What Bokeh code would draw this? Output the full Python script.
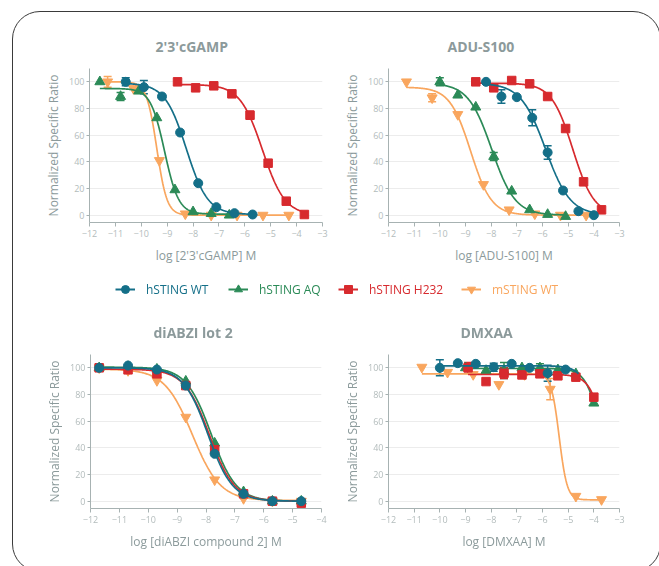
import numpy as np
from bokeh.plotting import figure
from bokeh.models import (ColumnDataSource, Whisker, TeeHead, FixedTicker, Legend,
                          LegendItem, Div, Range1d)
from bokeh.layouts import column, row
from bokeh.embed import file_html
from bokeh.resources import INLINE

SERIES = ["hSTING WT", "hSTING AQ", "hSTING H232", "mSTING WT"]
COLORS = ["#146f88", "#2b8a57", "#d72a2e", "#f9a65e"]
MARKERS = ["circle", "triangle", "square", "inverted_triangle"]
SIZES = [9, 10, 8.5, 10]

# ---------------- 2'3'cGAMP ----------------
cg_x_wt = [-10.6, -9.9, -9.2, -8.5, -7.8, -7.1, -6.4, -5.7]
cg_y_wt = [100, 96, 89, 62, 24, 6, 1.5, 0.5]
cg_e_wt = [3, 5, 0, 0, 0, 0, 0, 0]
cg_x_aq = [-11.6, -10.8, -10.1, -9.4, -8.7, -8.0, -7.3, -6.6]
cg_y_aq = [100, 89, 93, 73, 19, 2.5, 1.2, 0]
cg_e_aq = [0, 3, 0, 0, 0, 0, 0, 0]
cg_x_h232 = [-8.6, -7.9, -7.2, -6.5, -5.8, -5.1, -4.4, -3.7]
cg_y_h232 = [100, 95.5, 97, 91, 75, 39, 10.5, 0.5]
cg_e_h232 = [0, 0, 0, 0, 3, 0, 0, 0]
cg_x_m = [-11.3, -10.3, -9.3, -8.3, -7.3, -6.3, -5.3, -4.3]
cg_y_m = [100, 95, 41, 1, 0, 0, 0, 0]
cg_e_m = [4, 0, 0, 0, 0, 0, 0, 0]
cg_top = [99, 95, 98, 100]
cg_bottom = [0.5, 0.8, 0, 0]
cg_logec = [-8.26, -9.1, -5.32, -9.4]
cg_hill = [1.05, 1.6, 1.0, 2.2]
cg_xend = [-5.7, -6.6, -3.7, -4.3]

# ---------------- ADU-S100 ----------------
ad_x_wt = [-8.2, -7.6, -7.0, -6.4, -5.8, -5.2, -4.6, -4.0]
ad_y_wt = [100, 89, 88.5, 73, 47, 18.5, 3, 0]
ad_e_wt = [0, 5, 0, 6, 5, 0, 0, 0]
ad_x_aq = [-10.0, -9.3, -8.6, -7.9, -7.2, -6.5, -5.8, -5.1]
ad_y_aq = [100, 90, 81, 44, 18, 4, 0.5, -1]
ad_e_aq = [3, 0, 0, 3, 0, 0, 0, 0]
ad_x_h232 = [-8.6, -7.9, -7.2, -6.5, -5.8, -5.1, -4.4, -3.7]
ad_y_h232 = [100, 95.5, 101, 98.5, 89, 65, 25, 4]
ad_e_h232 = [0, 0, 0, 0, 2, 0, 0, 0]
ad_x_m = [-11.3, -10.3, -9.3, -8.3, -7.3, -6.3, -5.3, -4.3]
ad_y_m = [100, 88, 75.5, 23, 4, 1, 0, 0]
ad_e_m = [0, 3, 0, 0, 0, 0, 0, 0]
ad_top = [99, 99, 99, 96]
ad_bottom = [0, 0, 0, 0]
ad_logec = [-5.88, -7.98, -4.82, -8.8]
ad_hill = [0.9, 0.95, 1.05, 1.07]
ad_xend = [-4.0, -5.1, -3.7, -4.3]

# ---------------- diABZI lot 2 ----------------
di_x = [-11.7, -10.7, -9.7, -8.7, -7.7, -6.7, -5.7, -4.7]
di_y_wt = [100, 101.7, 98.7, 86.7, 35.5, 5.5, 0, 0]
di_y_aq = [100, 101, 99, 90, 43.5, 7, 0, 0]
di_y_h232 = [100, 98.5, 95.5, 86.7, 38.5, 5.5, 0, -1.5]
di_y_m = [100, 98, 90.5, 63, 16, 2, 0, 0]
di_e = [0, 0, 0, 0, 0, 0, 0, 0]
di_top = [100, 100.5, 99, 99]
di_bottom = [0, 0, 0, 0.5]
di_logec = [-7.93, -7.82, -7.88, -8.47]
di_hill = [1.02, 1.0, 1.0, 0.9]
di_xend = [-4.7, -4.7, -4.7, -4.7]

# ---------------- DMXAA ----------------
dm_x_wt = [-10.0, -9.3, -8.6, -7.9, -7.2, -6.5, -5.8, -5.1]
dm_y_wt = [100, 103.5, 103, 100.5, 103, 100, 96, 98.7]
dm_e_wt = [6, 0, 0, 3, 0, 0, 6, 0]
dm_x_aq = [-9.0, -8.2, -7.5, -6.8, -6.1, -5.4, -4.7, -4.0]
dm_y_aq = [100, 98, 98, 100, 100, 98.5, 95.5, 73.5]
dm_e_aq = [0, 0, 6, 0, 3, 0, 0, 0]
dm_x_h232 = [-8.9, -8.2, -7.5, -6.8, -6.1, -5.4, -4.7, -4.0]
dm_y_h232 = [100, 89.7, 96, 94.7, 95.5, 94, 93, 78]
dm_e_h232 = [4, 0, 4, 0, 0, 0, 0, 0]
dm_x_m = [-10.7, -9.7, -8.7, -7.7, -6.7, -5.7, -4.7, -3.7]
dm_y_m = [100.5, 96.7, 95, 87.5, 95, 84, 3.7, 1.2]
dm_e_m = [0, 0, 0, 0, 0, 8, 0, 0]
dm_top = [101.5, 99.5, 95, 95.5]
dm_bottom = [0, 0, 0, 1]
dm_logec = [-3.8, -3.7, -3.56, -5.35]
dm_hill = [1.5, 1.5, 1.5, 2.8]
dm_xend = [-4.6, -4.0, -4.0, -3.7]

Y_TICKS = [0, 20, 40, 60, 80, 100]

FONT = "Open Sans"
TITLE_C = "#8c9a9b"
LABEL_C = "#8b9a9b"
TICKLAB_C = "#b3bcbc"
AXIS_C = "#a7b2b2"
GRID_C = "#ececec"


def make_panel(title, xlabel, x_end, panel, fit, width, height, mb_left, mb_right,
               mb_top, mb_bottom, title_offset):
    p = figure(width=width, height=height, output_backend="svg", toolbar_location=None,
               x_range=Range1d(-12, x_end), y_range=Range1d(-5.5, 110),
               min_border_left=mb_left, min_border_right=mb_right,
               min_border_top=mb_top, min_border_bottom=mb_bottom,
               title=title)
    p.outline_line_color = None
    p.background_fill_color = None
    p.border_fill_color = None
    p.title.text_font = FONT
    p.title.text_font_size = "14px"
    p.title.text_font_style = "bold"
    p.title.text_color = TITLE_C
    p.title.align = "left"
    p.title.offset = title_offset
    p.title.standoff = 26
    p.xgrid.visible = False
    p.ygrid.grid_line_color = GRID_C
    p.ygrid.grid_line_width = 1
    p.yaxis.ticker = FixedTicker(ticks=Y_TICKS)
    p.xaxis.ticker = FixedTicker(ticks=list(range(-12, int(x_end) + 1)))
    p.xaxis.axis_label = xlabel
    p.yaxis.axis_label = "Normalized Specific Ratio"
    for ax in (p.xaxis, p.yaxis):
        ax.axis_line_color = AXIS_C
        ax.major_tick_line_color = AXIS_C
        ax.minor_tick_line_color = None
        ax.major_tick_in = 0
        ax.major_label_text_color = TICKLAB_C
        ax.major_label_text_font = FONT
        ax.major_label_text_font_size = "9px"
        ax.axis_label_text_color = LABEL_C
        ax.axis_label_text_font = FONT
        ax.axis_label_text_font_size = "12px"
        ax.axis_label_text_font_style = "normal"
    p.xaxis.major_tick_out = 4
    p.yaxis.major_tick_out = 3
    p.xaxis.major_label_standoff = 3
    p.yaxis.major_label_standoff = 2
    p.xaxis.axis_label_standoff = 7
    p.yaxis.axis_label_standoff = 4

    top, bottom, logec, hill, xend = fit
    for i in [3, 1, 2, 0]:
        xs, ys, es = panel[i]
        c = COLORS[i]
        xc = np.linspace(min(xs), xend[i], 300)
        yc = bottom[i] + (top[i] - bottom[i]) / (1 + 10 ** ((xc - logec[i]) * hill[i]))
        p.line(xc, yc, line_color=c, line_width=1.7)
        ex = [x for x, e in zip(xs, es) if e > 0]
        if ex:
            eu = [y + e for y, e in zip(ys, es) if e > 0]
            el = [y - e for y, e in zip(ys, es) if e > 0]
            src = ColumnDataSource(dict(x=ex, upper=eu, lower=el))
            p.add_layout(Whisker(source=src, base="x", upper="upper", lower="lower",
                                 line_color=c, line_width=1.5,
                                 upper_head=TeeHead(size=8, line_color=c, line_width=1.5),
                                 lower_head=TeeHead(size=8, line_color=c, line_width=1.5)))
        p.scatter(xs, ys, marker=MARKERS[i], size=SIZES[i], fill_color=c, line_color=c)
    return p


p1 = make_panel("2'3'cGAMP", "log [2'3'cGAMP] M", -3,
                [(cg_x_wt, cg_y_wt, cg_e_wt), (cg_x_aq, cg_y_aq, cg_e_aq),
                 (cg_x_h232, cg_y_h232, cg_e_h232), (cg_x_m, cg_y_m, cg_e_m)],
                (cg_top, cg_bottom, cg_logec, cg_hill, cg_xend),
                338, 271, 89, 16, 68, 49, 66)
p2 = make_panel("ADU-S100", "log [ADU-S100] M", -3,
                [(ad_x_wt, ad_y_wt, ad_e_wt), (ad_x_aq, ad_y_aq, ad_e_aq),
                 (ad_x_h232, ad_y_h232, ad_e_h232), (ad_x_m, ad_y_m, ad_e_m)],
                (ad_top, ad_bottom, ad_logec, ad_hill, ad_xend),
                312, 271, 50, 31, 68, 49, 59)
p3 = make_panel("diABZI lot 2", "log [diABZI compound 2] M", -4,
                [(di_x, di_y_wt, di_e), (di_x, di_y_aq, di_e),
                 (di_x, di_y_h232, di_e), (di_x, di_y_m, di_e)],
                (di_top, di_bottom, di_logec, di_hill, di_xend),
                338, 250, 90, 17, 45, 49, 63)
p4 = make_panel("DMXAA", "log [DMXAA] M", -3,
                [(dm_x_wt, dm_y_wt, dm_e_wt), (dm_x_aq, dm_y_aq, dm_e_aq),
                 (dm_x_h232, dm_y_h232, dm_e_h232), (dm_x_m, dm_y_m, dm_e_m)],
                (dm_top, dm_bottom, dm_logec, dm_hill, dm_xend),
                312, 250, 50, 31, 45, 49, 72)

# ---------------- legend strip ----------------
leg = figure(width=649, height=36, output_backend="svg", toolbar_location=None,
             min_border=0, x_range=Range1d(0, 1), y_range=Range1d(0, 1))
leg.axis.visible = False
leg.grid.visible = False
leg.outline_line_color = None
leg.background_fill_color = None
leg.border_fill_color = None
LEG_X = [104, 217, 327, 450]
for i in range(4):
    src = ColumnDataSource(dict(x=[10], y=[10]))
    rl = leg.line("x", "y", source=src, line_color=COLORS[i], line_width=2)
    rs = leg.scatter("x", "y", source=src, marker=MARKERS[i], size=SIZES[i],
                     fill_color=COLORS[i], line_color=COLORS[i])
    lg = Legend(items=[LegendItem(label=SERIES[i], renderers=[rl, rs])],
                location=(LEG_X[i], 8), orientation="horizontal", margin=0, padding=0,
                border_line_color=None, background_fill_alpha=0,
                label_text_color=COLORS[i], label_text_font=FONT,
                label_text_font_size="12px", glyph_width=20, glyph_height=20,
                label_standoff=11, label_height=20)
    leg.add_layout(lg)

frame_div = Div(text='<div style="position:fixed;left:12px;top:11px;width:649px;height:561px;'
                     'box-sizing:border-box;border:1.5px solid #3a3a3a;border-radius:28px;'
                     'pointer-events:none;"></div>', width=1, height=1)

layout = column(row(p1, p2), row(frame_div, leg), row(p3, p4))

open("out.html", "w").write(file_html(layout, INLINE))
